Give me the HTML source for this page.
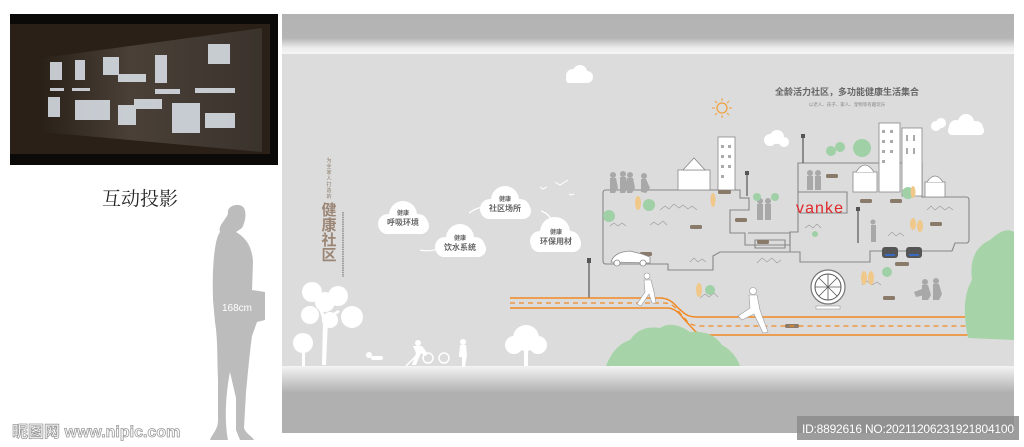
<!DOCTYPE html>
<html><head><meta charset="utf-8"><style>
body{margin:0;width:1024px;height:447px;background:#fff;overflow:hidden;position:relative;font-family:"Liberation Sans","Noto Sans CJK SC",sans-serif}
</style></head><body>
<svg width="1024" height="447" viewBox="0 0 1024 447" xmlns="http://www.w3.org/2000/svg" style="position:absolute;left:0;top:0">
<defs>
<linearGradient id="tb" x1="0" y1="0" x2="0" y2="1"><stop offset="0" stop-color="#b3b3b3"/><stop offset="0.6" stop-color="#b5b5b5"/><stop offset="0.85" stop-color="#ececec"/><stop offset="1" stop-color="#f6f6f6"/></linearGradient>
<linearGradient id="bb" x1="0" y1="0" x2="0" y2="1"><stop offset="0" stop-color="#f4f4f4"/><stop offset="0.25" stop-color="#c9c9c9"/><stop offset="0.4" stop-color="#b0b0b0"/><stop offset="1" stop-color="#b0b0b0"/></linearGradient>
<linearGradient id="ph" x1="0" y1="0" x2="1" y2="0"><stop offset="0" stop-color="#2a2119"/><stop offset="0.4" stop-color="#4a4038"/><stop offset="1" stop-color="#3a332c"/></linearGradient>
</defs>
<!-- photo -->
<rect x="10" y="14" width="268" height="151" fill="#0c0a08"/>
<rect x="10" y="24" width="260" height="130" fill="#2a2018"/>
<polygon points="42,58 262,28 262,152 42,132" fill="url(#ph)"/>
<g fill="#dfe6ee" opacity="0.85">
<rect x="50" y="62" width="12" height="18"/><rect x="75" y="60" width="10" height="20"/><rect x="103" y="57" width="16" height="18"/><rect x="118" y="74" width="28" height="8"/>
<rect x="155" y="55" width="12" height="28"/><rect x="208" y="44" width="22" height="20"/><rect x="155" y="89" width="25" height="5"/><rect x="195" y="88" width="40" height="5"/>
<rect x="48" y="97" width="12" height="20"/><rect x="75" y="100" width="35" height="20"/><rect x="118" y="105" width="18" height="20"/><rect x="134" y="99" width="28" height="10"/>
<rect x="172" y="103" width="28" height="30"/><rect x="205" y="113" width="30" height="15"/><rect x="50" y="88" width="14" height="3"/><rect x="72" y="88" width="18" height="3"/>
</g>
<text x="140" y="205" font-size="19" font-family="Liberation Serif,'Noto Serif CJK SC',serif" fill="#222" text-anchor="middle">互动投影</text>
<!-- silhouette -->
<path fill="#bcbcbc" d="M228,214 C226,205 240,202 244,208 C247,214 245,222 242,228 L236,232 C246,238 252,246 253,262 L252,290 L265,292 L265,320 L257,322 L252,336 C250,350 248,372 246,392 L244,428 C246,434 252,436 254,440 L240,440 L236,430 L236,398 L230,372 C226,392 224,420 228,440 L210,440 C212,434 218,430 218,420 L218,380 C217,360 218,340 215,322 L213,300 C212,270 214,240 220,232 C218,226 224,222 228,214 Z"/>
<text x="222" y="311" font-size="10" fill="#fff">168cm</text>
<!-- panel -->
<rect x="282" y="14" width="732" height="40" fill="url(#tb)"/>
<rect x="282" y="54" width="732" height="313" fill="#dcdcdc"/>
<rect x="282" y="366" width="732" height="67" fill="url(#bb)"/>
<!-- clouds -->
<g fill="#fff">
<circle cx="573" cy="76" r="7"/><circle cx="580" cy="72" r="7"/><circle cx="587" cy="77" r="6"/><rect x="566" y="76" width="22" height="7" rx="3"/>
<circle cx="770" cy="140" r="6"/><circle cx="777" cy="137" r="7"/><circle cx="784" cy="142" r="5"/>
<circle cx="936" cy="126" r="5"/><circle cx="941" cy="123" r="5"/>
<circle cx="956" cy="127" r="7"/><circle cx="966" cy="122" r="8"/><circle cx="976" cy="128" r="7"/><rect x="948" y="126" width="36" height="9" rx="4"/>
<circle cx="403" cy="215" r="14"/><circle cx="388" cy="224" r="10"/><circle cx="418" cy="224" r="10"/><rect x="379" y="218" width="50" height="16" rx="8"/>
<circle cx="460" cy="238" r="14"/><circle cx="445" cy="247" r="10"/><circle cx="475" cy="247" r="10"/><rect x="436" y="241" width="50" height="16" rx="8"/>
<circle cx="505" cy="200" r="14"/><circle cx="490" cy="209" r="10"/><circle cx="520" cy="209" r="10"/><rect x="481" y="203" width="50" height="16" rx="8"/>
<circle cx="555" cy="232" r="15"/><circle cx="540" cy="241" r="10"/><circle cx="570" cy="241" r="10"/><rect x="531" y="235" width="50" height="17" rx="8"/>
</g>
<g fill="none" stroke="#fff" stroke-width="1.2"><path d="M420,250 Q430,252 437,249"/><path d="M469,213 Q476,208 483,207"/><path d="M541,211 Q550,214 552,222"/></g>
<g font-size="8" fill="#666" text-anchor="middle" font-weight="bold">
<text x="403" y="215" font-size="6">健康</text><text x="403" y="225">呼吸环境</text>
<text x="460" y="240" font-size="6">健康</text><text x="460" y="250">饮水系统</text>
<text x="505" y="201" font-size="6">健康</text><text x="505" y="211">社区场所</text>
<text x="556" y="234" font-size="6">健康</text><text x="556" y="244">环保用材</text>
</g>
<!-- left vertical text -->
<g font-size="5" fill="#8a7a6a" text-anchor="middle"><text x="329" y="162">为</text><text x="329" y="168">全</text><text x="329" y="174">家</text><text x="329" y="180">人</text><text x="329" y="186">打</text><text x="329" y="192">造</text><text x="329" y="198">的</text></g>
<g font-size="15" fill="#9b8676" font-weight="bold" text-anchor="middle"><text x="329" y="215">健</text><text x="329" y="230">康</text><text x="329" y="245">社</text><text x="329" y="260">区</text></g>
<line x1="343" y1="212" x2="343" y2="277" stroke="#777" stroke-width="1.2" stroke-dasharray="1.5 0.8"/>
<!-- title -->
<text x="847" y="95" font-size="9" font-weight="bold" fill="#666" text-anchor="middle">全龄活力社区，多功能健康生活集合</text>
<text x="847" y="106" font-size="4.5" fill="#888" text-anchor="middle">以老人、孩子、家人、宠物等有趣玩乐</text>
<circle cx="722" cy="108" r="5" fill="none" stroke="#f0a040" stroke-width="1.3"/>
<g stroke="#f0a040" stroke-width="1"><line x1="722" y1="98" x2="722" y2="101"/><line x1="722" y1="115" x2="722" y2="118"/><line x1="712" y1="108" x2="715" y2="108"/><line x1="729" y1="108" x2="732" y2="108"/><line x1="715" y1="101" x2="717" y2="103"/><line x1="727" y1="113" x2="729" y2="115"/><line x1="729" y1="101" x2="727" y2="103"/><line x1="715" y1="115" x2="717" y2="113"/></g>
<!-- birds -->
<g stroke="#fff" stroke-width="1" fill="none"><path d="M555,182 l5,3 l8,-5"/><path d="M540,187 l3,2 l4,-2"/><path d="M569,194 l2,1 l3,-1"/></g>
<!-- building outline -->
<g fill="none" stroke="#888" stroke-width="1.1">
<path d="M606,190 L740,190 L740,198 L749,198 L749,210 L730,210 L730,233 L745,233 L745,245 L790,245 L790,232 L798,232 L798,163 L922,163 L922,197 L966,197 Q969,197 969,200 L969,240 Q969,243 966,243 L955,243 L952,251 L870,251 L870,262 L800,262 L800,252 L720,252 L713,256 L713,270 L668,270 L668,264 L606,264 Q603,264 603,261 L603,193 Q603,190 606,190 Z"/>
<path d="M798,192 L847,192 L847,213 L800,213"/>
<path d="M740,198 L749,198"/>
<path d="M748,233 L790,233 L790,252"/>
<path d="M755,240 L785,240 L785,248 L755,248 Z"/>
</g>
<!-- mountains -->
<g fill="none" stroke="#999" stroke-width="0.6">
<path d="M660,210 l5,-4 l4,3 l5,-5 l5,4 l4,-3 l5,4 l4,-3 l5,4"/><path d="M610,226 l4,-3 l4,3 l4,-3 l4,3"/><path d="M650,225 l4,-3 l4,3 l5,-4 l4,4"/>
<path d="M805,228 l4,-3 l4,3 l4,-4 l4,4"/><path d="M927,210 l4,-4 l4,4 l5,-4 l5,4 l4,-3 l4,3"/><path d="M888,236 l4,-4 l4,4 l4,-3 l4,3"/>
<path d="M757,263 l5,-5 l5,4 l5,-4 l5,5 l4,-3"/><path d="M690,262 l4,-4 l4,4 l4,-3 l4,3"/><path d="M700,298 l5,-4 l4,3 l5,-4 l4,4"/><path d="M862,285 l5,-4 l5,4 l5,-3 l4,3"/>
</g>
<!-- buildings -->
<g fill="#fff" stroke="#888" stroke-width="0.8">
<rect x="718" y="137" width="17" height="53"/><rect x="678" y="170" width="32" height="20"/><polygon points="683,170 694,158 705,170"/>
<rect x="879" y="123" width="21" height="69"/><rect x="902" y="128" width="20" height="68"/><rect x="853" y="172" width="24" height="20"/><path d="M856,172 Q865,158 874,172"/><rect x="925" y="182" width="20" height="15"/><path d="M927,182 Q935,170 943,182"/>
</g>
<g fill="#aaa"><rect x="882" y="130" width="3" height="3"/><rect x="890" y="130" width="3" height="3"/><rect x="882" y="140" width="3" height="3"/><rect x="890" y="140" width="3" height="3"/><rect x="882" y="150" width="3" height="3"/><rect x="890" y="150" width="3" height="3"/><rect x="882" y="160" width="3" height="3"/><rect x="906" y="135" width="2" height="6"/><rect x="913" y="135" width="2" height="6"/><rect x="906" y="148" width="2" height="6"/><rect x="913" y="148" width="2" height="6"/><rect x="721" y="145" width="3" height="3"/><rect x="728" y="145" width="3" height="3"/><rect x="721" y="155" width="3" height="3"/><rect x="728" y="155" width="3" height="3"/><rect x="721" y="165" width="3" height="3"/><rect x="728" y="165" width="3" height="3"/><rect x="721" y="175" width="3" height="3"/></g>
<text x="796" y="213" font-size="16" fill="#e0282a" font-family="Liberation Sans,sans-serif" textLength="47">vanke</text>
<!-- labels -->
<g fill="#8a7a6a"><rect x="718" y="190" width="13" height="4" rx="1.5"/><rect x="735" y="218" width="12" height="4" rx="1.5"/><rect x="690" y="225" width="12" height="4" rx="1.5"/><rect x="640" y="252" width="12" height="4" rx="1.5"/><rect x="757" y="240" width="12" height="4" rx="1.5"/><rect x="826" y="174" width="12" height="4" rx="1.5"/><rect x="860" y="199" width="12" height="4" rx="1.5"/><rect x="890" y="199" width="12" height="4" rx="1.5"/><rect x="930" y="222" width="12" height="4" rx="1.5"/><rect x="895" y="262" width="14" height="4" rx="1.5"/><rect x="883" y="296" width="12" height="4" rx="1.5"/><rect x="785" y="324" width="14" height="4" rx="1.5"/></g>
<!-- grey people -->
<g fill="#a8a8a8"><circle cx="613" cy="175" r="3"/><path d="M610,178 l6,0 l2,10 l-3,5 l-5,0 z"/><circle cx="623" cy="174" r="3"/><path d="M620,177 l6,0 l2,10 l-3,6 l-5,0 z"/><circle cx="630" cy="175" r="3"/><path d="M627,178 l6,0 l2,10 l-3,5 l-5,0 z"/><circle cx="644" cy="176" r="3"/><path d="M641,179 l5,0 l4,9 l-4,5 l-5,-1 z"/>
<circle cx="810" cy="173" r="3"/><rect x="807" y="176" width="6" height="14"/><circle cx="818" cy="173" r="3"/><rect x="815" y="176" width="6" height="14"/>
<circle cx="760" cy="201" r="3"/><rect x="757" y="204" width="6" height="16"/><circle cx="768" cy="201" r="3"/><rect x="765" y="204" width="6" height="16"/>
<circle cx="873" cy="222" r="2.5"/><rect x="871" y="225" width="5" height="17"/>
<circle cx="925" cy="282" r="3"/><path d="M922,285 l6,0 l3,10 l-3,5 l-6,0 z"/><circle cx="936" cy="281" r="3"/><path d="M933,284 l6,0 l3,10 l-3,6 l-6,0 z"/><path d="M914,292 l8,-3 l3,6 l-9,2 z"/></g>
<!-- small trees -->
<g fill="#9fd0a6"><circle cx="649" cy="205" r="6"/><circle cx="609" cy="216" r="6"/><circle cx="831" cy="151" r="5"/><circle cx="840" cy="147" r="5"/><circle cx="862" cy="148" r="9"/><circle cx="908" cy="193" r="6"/><circle cx="757" cy="197" r="4"/><circle cx="775" cy="197" r="4"/><circle cx="710" cy="290" r="5"/><circle cx="887" cy="272" r="5"/><circle cx="815" cy="234" r="3"/><circle cx="660" cy="156" r="0"/></g>
<g fill="#f0c88a"><ellipse cx="638" cy="203" rx="3" ry="7"/><ellipse cx="713" cy="200" rx="2.5" ry="7"/><ellipse cx="699" cy="290" rx="3" ry="7"/><ellipse cx="864" cy="278" rx="3" ry="7"/><ellipse cx="871" cy="278" rx="3" ry="7"/><ellipse cx="913" cy="224" rx="3" ry="6"/><ellipse cx="920" cy="226" rx="3" ry="6"/><ellipse cx="913" cy="192" rx="2.5" ry="6"/></g>
<!-- cars -->
<g fill="#555"><rect x="882" y="247" width="16" height="11" rx="3"/><rect x="906" y="247" width="16" height="11" rx="3"/></g>
<g fill="#3a6ac0"><rect x="885" y="254" width="10" height="2"/><rect x="909" y="254" width="10" height="2"/></g>
<path d="M611,262 Q614,252 630,251 L642,254 L650,257 L650,263 Z" fill="#fff" stroke="#888" stroke-width="0.8"/>
<g fill="#fff" stroke="#888" stroke-width="0.8"><circle cx="617" cy="263" r="3"/><circle cx="643" cy="263" r="3"/></g>
<!-- lamps -->
<g stroke="#555" stroke-width="1.2"><line x1="589" y1="262" x2="589" y2="298"/><line x1="747" y1="174" x2="747" y2="196"/><line x1="858" y1="210" x2="858" y2="243"/><line x1="803" y1="137" x2="803" y2="163"/></g>
<g fill="#555"><rect x="587" y="258" width="4" height="5"/><rect x="745" y="171" width="4" height="4"/><rect x="856" y="207" width="4" height="4"/><rect x="801" y="134" width="4" height="4"/></g>
<!-- road -->
<g fill="none" stroke="#f08a24" stroke-width="1.5">
<path d="M510,298 L660,298 Q670,298 677,307 L684,313 Q688,317 697,317 L1005,317"/>
<path d="M510,308 L667,308 Q676,308 683,318 L694,330 Q698,335 710,335 L1012,335"/>
<path d="M510,303 L664,303 Q673,303 680,313 L688,322 Q692,326 702,326 L1005,326" stroke-dasharray="5 4" stroke-width="1.2"/>
</g>
<!-- ferris wheel -->
<circle cx="828" cy="287" r="17" fill="#fff" stroke="#777" stroke-width="1.2"/>
<circle cx="828" cy="287" r="13" fill="none" stroke="#555" stroke-width="1"/>
<g stroke="#555" stroke-width="0.8"><line x1="815" y1="287" x2="841" y2="287"/><line x1="828" y1="274" x2="828" y2="300"/><line x1="819" y1="278" x2="837" y2="296"/><line x1="837" y1="278" x2="819" y2="296"/></g>
<rect x="816" y="306" width="24" height="3" fill="#fff" stroke="#888" stroke-width="0.5"/>
<!-- runners -->
<g fill="#fff" stroke="#999" stroke-width="0.6"><circle cx="647" cy="276" r="3"/><path d="M644,280 L651,280 L654,292 L656,303 L652,303 L649,294 L641,306 L637,304 L645,292 Z"/><circle cx="753" cy="291" r="3.5"/><path d="M749,295 L757,295 L760,310 L768,332 L763,333 L754,314 L742,320 L738,316 L750,308 Z"/></g>
<!-- green bush and tree -->
<path d="M606,366 Q614,345 630,340 Q640,325 660,328 Q672,320 690,332 Q712,330 722,345 Q735,352 740,366 Z" fill="#a6d4a8"/>
<path d="M968,338 Q960,300 972,280 Q968,250 990,240 Q1005,226 1014,232 L1014,340 Z" fill="#a6d4a8"/>
<!-- white trees / people -->
<g fill="#fff">
<circle cx="312" cy="292" r="10"/><circle cx="325" cy="302" r="10"/><circle cx="338" cy="296" r="10"/><circle cx="352" cy="317" r="11"/><circle cx="310" cy="315" r="9"/><circle cx="330" cy="320" r="8"/><polygon points="322,365 326,365 328,320 340,312 338,310 326,318 318,300 316,302 323,320"/>
<circle cx="303" cy="343" r="10"/><rect x="302" y="345" width="3" height="21"/>
<circle cx="526" cy="338" r="13"/><circle cx="514" cy="345" r="9"/><circle cx="538" cy="345" r="9"/><rect x="524" y="345" width="4" height="21"/>
<circle cx="418" cy="343" r="3"/><path d="M413,346 l9,0 l6,8 l-3,2 l-4,-3 l-5,12 l-4,0 l4,-12 z"/><circle cx="463" cy="342" r="3"/><path d="M460,345 l6,0 l1,10 l-2,12 l-3,0 l0,-10 l-3,0 z"/>
<rect x="371" y="356" width="12" height="4" rx="2"/><circle cx="369" cy="355" r="3"/>
</g>
<g fill="none" stroke="#fff" stroke-width="1.5"><circle cx="428" cy="358" r="5"/><circle cx="444" cy="358" r="5"/><line x1="406" y1="366" x2="416" y2="356"/></g>
<!-- watermark -->
<text x="12" y="437" font-size="16" font-weight="bold" fill="#fff" stroke="#9a9a9a" stroke-width="0.8">昵图网 www.nipic.com</text>
<rect x="797" y="416" width="222" height="24" fill="#8c8c8c" opacity="0.85"/>
<text x="802" y="433" font-size="12" fill="#fff" font-family="Liberation Sans,sans-serif" textLength="212">ID:8892616 NO:20211206231921804100</text>
</svg>
</body></html>
